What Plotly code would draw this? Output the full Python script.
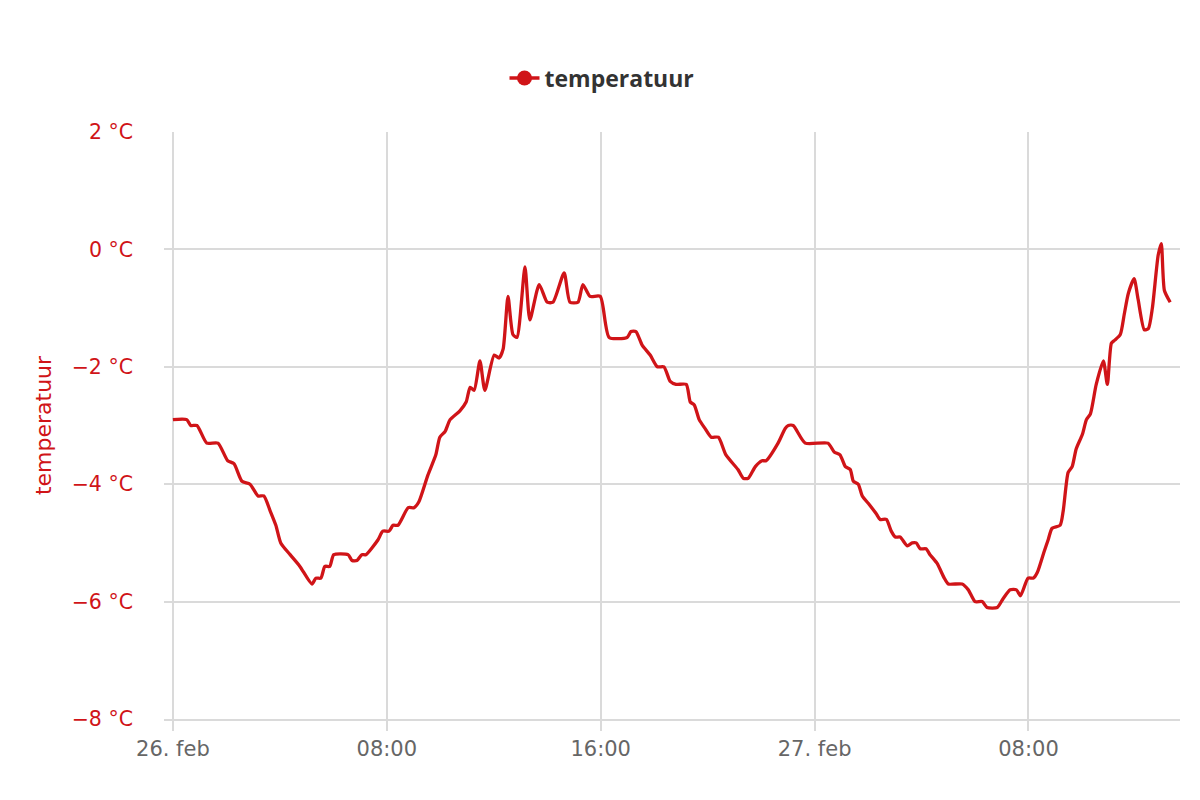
import plotly.graph_objects as go

times = [
    "2021-02-26 00:00", "2021-02-26 00:31", "2021-02-26 00:40", "2021-02-26 00:54",
    "2021-02-26 01:16", "2021-02-26 01:41", "2021-02-26 02:03", "2021-02-26 02:17",
    "2021-02-26 02:35", "2021-02-26 02:53", "2021-02-26 03:11", "2021-02-26 03:24",
    "2021-02-26 03:38", "2021-02-26 03:51", "2021-02-26 04:02", "2021-02-26 04:23",
    "2021-02-26 04:45", "2021-02-26 05:12", "2021-02-26 05:21", "2021-02-26 05:32",
    "2021-02-26 05:41", "2021-02-26 05:52", "2021-02-26 06:01", "2021-02-26 06:33",
    "2021-02-26 06:42", "2021-02-26 06:53", "2021-02-26 07:04", "2021-02-26 07:13",
    "2021-02-26 07:40", "2021-02-26 07:51", "2021-02-26 08:05", "2021-02-26 08:14",
    "2021-02-26 08:25", "2021-02-26 08:48", "2021-02-26 09:01", "2021-02-26 09:12",
    "2021-02-26 09:32", "2021-02-26 09:50", "2021-02-26 09:59", "2021-02-26 10:11",
    "2021-02-26 10:22", "2021-02-26 10:44", "2021-02-26 10:58", "2021-02-26 11:07",
    "2021-02-26 11:16", "2021-02-26 11:29", "2021-02-26 11:40", "2021-02-26 12:01",
    "2021-02-26 12:12", "2021-02-26 12:21", "2021-02-26 12:32", "2021-02-26 12:43",
    "2021-02-26 12:52", "2021-02-26 13:10", "2021-02-26 13:21", "2021-02-26 13:42",
    "2021-02-26 14:00", "2021-02-26 14:13", "2021-02-26 14:38", "2021-02-26 14:51",
    "2021-02-26 15:09", "2021-02-26 15:20", "2021-02-26 15:36", "2021-02-26 15:59",
    "2021-02-26 16:19", "2021-02-26 16:59", "2021-02-26 17:08", "2021-02-26 17:19",
    "2021-02-26 17:33", "2021-02-26 17:51", "2021-02-26 18:07", "2021-02-26 18:22",
    "2021-02-26 18:36", "2021-02-26 18:49", "2021-02-26 19:12", "2021-02-26 19:21",
    "2021-02-26 19:30", "2021-02-26 19:41", "2021-02-26 19:54", "2021-02-26 20:08",
    "2021-02-26 20:24", "2021-02-26 20:41", "2021-02-26 21:08", "2021-02-26 21:20",
    "2021-02-26 21:31", "2021-02-26 21:47", "2021-02-26 22:02", "2021-02-26 22:11",
    "2021-02-26 22:38", "2021-02-26 22:54", "2021-02-26 23:01", "2021-02-26 23:12",
    "2021-02-26 23:39", "2021-02-27 00:30", "2021-02-27 00:44", "2021-02-27 00:57",
    "2021-02-27 01:09", "2021-02-27 01:20", "2021-02-27 01:27", "2021-02-27 01:38",
    "2021-02-27 01:47", "2021-02-27 02:03", "2021-02-27 02:18", "2021-02-27 02:27",
    "2021-02-27 02:41", "2021-02-27 02:52", "2021-02-27 03:01", "2021-02-27 03:12",
    "2021-02-27 03:28", "2021-02-27 03:39", "2021-02-27 03:48", "2021-02-27 03:57",
    "2021-02-27 04:10", "2021-02-27 04:19", "2021-02-27 04:35", "2021-02-27 04:51",
    "2021-02-27 05:00", "2021-02-27 05:31", "2021-02-27 05:45", "2021-02-27 06:00",
    "2021-02-27 06:16", "2021-02-27 06:27", "2021-02-27 06:50", "2021-02-27 07:03",
    "2021-02-27 07:19", "2021-02-27 07:33", "2021-02-27 07:42", "2021-02-27 07:59",
    "2021-02-27 08:11", "2021-02-27 08:20", "2021-02-27 08:35", "2021-02-27 08:44",
    "2021-02-27 08:53", "2021-02-27 09:11", "2021-02-27 09:18", "2021-02-27 09:29",
    "2021-02-27 09:38", "2021-02-27 09:47", "2021-02-27 10:01", "2021-02-27 10:10",
    "2021-02-27 10:19", "2021-02-27 10:32", "2021-02-27 10:48", "2021-02-27 10:57",
    "2021-02-27 11:06", "2021-02-27 11:13", "2021-02-27 11:26", "2021-02-27 11:35",
    "2021-02-27 11:44", "2021-02-27 11:57", "2021-02-27 12:06", "2021-02-27 12:20",
    "2021-02-27 12:29", "2021-02-27 12:38", "2021-02-27 12:51", "2021-02-27 12:58",
    "2021-02-27 13:05", "2021-02-27 13:18",
]

temperatuur = [
    -2.9, -2.9, -3.0, -3.0,
    -3.3, -3.3, -3.6, -3.65,
    -3.95, -4.0, -4.2, -4.2,
    -4.45, -4.7, -5.0, -5.2,
    -5.4, -5.7, -5.6, -5.6,
    -5.4, -5.4, -5.2, -5.2,
    -5.3, -5.3, -5.2, -5.2,
    -4.95, -4.8, -4.8, -4.7,
    -4.7, -4.4, -4.4, -4.3,
    -3.85, -3.5, -3.2, -3.1,
    -2.9, -2.75, -2.6, -2.35,
    -2.4, -1.9, -2.4, -1.8,
    -1.85, -1.7, -0.8, -1.45,
    -1.5, -0.3, -1.2, -0.6,
    -0.9, -0.9, -0.4, -0.9,
    -0.9, -0.6, -0.8, -0.8,
    -1.5, -1.5, -1.4, -1.4,
    -1.63, -1.8, -2.0, -2.0,
    -2.25, -2.3, -2.3, -2.6,
    -2.65, -2.9, -3.05, -3.2,
    -3.2, -3.5, -3.75, -3.9,
    -3.9, -3.7, -3.6, -3.6,
    -3.3, -3.05, -3.0, -3.0,
    -3.3, -3.3, -3.45, -3.5,
    -3.7, -3.75, -3.95, -4.0,
    -4.2, -4.35, -4.5, -4.6,
    -4.6, -4.8, -4.9, -4.9,
    -5.05, -5.0, -5.0, -5.1,
    -5.1, -5.2, -5.35, -5.6,
    -5.7, -5.7, -5.8, -6.0,
    -6.0, -6.1, -6.1, -5.95,
    -5.8, -5.8, -5.9, -5.6,
    -5.6, -5.5, -5.15, -4.95,
    -4.75, -4.7, -4.45, -3.8,
    -3.7, -3.4, -3.15, -2.9,
    -2.8, -2.3, -1.9, -2.3,
    -1.6, -1.55, -1.45, -1.1,
    -0.75, -0.5, -0.85, -1.37,
    -1.35, -1.0, -0.1, 0.1,
    -0.7, -0.9,
]

x_tickvals = ["2021-02-26 00:00", "2021-02-26 08:00", "2021-02-26 16:00",
              "2021-02-27 00:00", "2021-02-27 08:00"]
x_ticktext = ["26. feb", "08:00", "16:00", "27. feb", "08:00"]

y_tickvals = [2, 0, -2, -4, -6, -8]
y_ticktext = ["2 °C", "0 °C", "−2 °C", "−4 °C", "−6 °C", "−8 °C"]

RED = "#d01418"
GRID = "#dadada"

fig = go.Figure()
fig.add_trace(go.Scatter(
    x=times, y=temperatuur, mode="lines", name="temperatuur",
    line=dict(color=RED, width=3.3, shape="spline", smoothing=0.6),
    showlegend=False,
))
fig.add_trace(go.Scatter(
    x=[None], y=[None], mode="lines+markers", name="temperatuur",
    line=dict(color=RED, width=3.5), marker=dict(color=RED, size=15),
))

fig.update_layout(
    width=1200, height=800,
    margin=dict(l=156, r=28, t=124, b=89),
    plot_bgcolor="white", paper_bgcolor="white",
    font=dict(family="DejaVu Sans", size=20, color="#666666"),
    legend=dict(
        orientation="h", xref="container", yref="container",
        x=0.495, xanchor="center", y=0.9125, yanchor="middle",
        font=dict(family="Open Sans", size=23, color="#333333", weight="bold"),
        itemwidth=30,
    ),
    xaxis=dict(
        type="date",
        range=["2021-02-25 23:40", "2021-02-27 13:40"],
        tickvals=x_tickvals, ticktext=x_ticktext,
        showgrid=True, gridcolor=GRID, gridwidth=1.5,
        showline=True, linecolor=GRID, linewidth=1.5,
        ticks="outside", ticklen=10, tickcolor=GRID, tickwidth=1.5,
        tickfont=dict(family="DejaVu Sans", size=21, color="#666666"),
        zeroline=False,
    ),
    yaxis=dict(
        range=[-8, 2],
        tickvals=y_tickvals, ticktext=y_ticktext,
        showgrid=True, gridcolor=GRID, gridwidth=1.5,
        zeroline=False, showline=False,
        ticks="", ticklabelstandoff=30,
        tickfont=dict(family="DejaVu Sans", size=20.5, color=RED),
        title=dict(text="temperatuur", font=dict(family="DejaVu Sans", size=22, color=RED), standoff=13),
    ),
)

fig.write_html("out.html")
